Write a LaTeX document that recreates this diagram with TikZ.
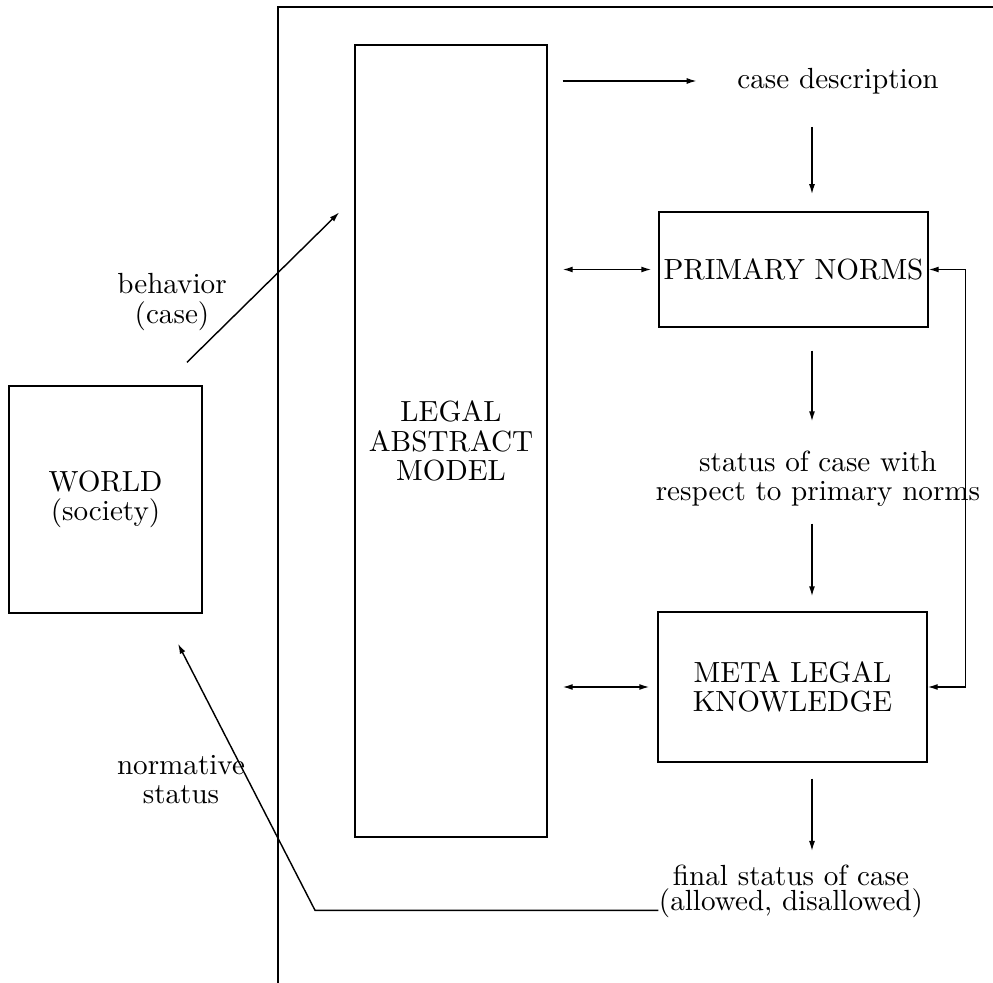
\documentclass[tikz,border=0pt]{standalone}
\usetikzlibrary{arrows.meta,calc}
\begin{document}
\begin{tikzpicture}[x=0.35pt,y=-0.35pt, line width=0.5pt,
  box/.style={draw, rectangle, inner sep=0pt, align=center, font=\fontsize{10.2}{10.2}\selectfont},
  lbl/.style={inner sep=0pt, align=center, font=\fontsize{10.2}{10.2}\selectfont},
  arr/.style={-{Latex[length=3.5pt,width=2.1pt]}},
  arrs/.style={{Latex[length=3.5pt,width=2.1pt]}-{Latex[length=3.5pt,width=2.1pt]}}]
\useasboundingbox (0,0) rectangle (993,983);

% outer frame (left and top edges only)
\coordinate (fa) at (278,983);
\coordinate (fb) at (278,7);
\coordinate (fc) at (993,7);
\draw (fa) -- (fb) -- (fc);

% boxes
\node[box, minimum width=67.55pt, minimum height=79.45pt] (world) at (105.5,499.5) {WORLD\\(society)};
\node[box, minimum width=67.2pt, minimum height=277.2pt] (legal) at (451,441) {LEGAL\\ABSTRACT\\MODEL};
\node[box, minimum width=94.15pt, minimum height=40.25pt] (primary) at (793.5,269.5) {PRIMARY NORMS};
\node[box, minimum width=94.15pt, minimum height=52.5pt] (meta) at (792.5,687) {META LEGAL\\KNOWLEDGE};

% free-standing labels
\node[lbl] (casedesc) at (838,81) {case description};
\node[lbl] (status) at (818,479) {status of case with\\respect to primary norms};
\node[lbl] (final) at (791,875) {final status of case};
\node[lbl] (finalb) at (791,903) {(allowed, disallowed)};
\node[lbl] (behavior) at (172,302) {behavior\\(case)};
\node[lbl] (normative) at (181,780) {normative\\status};

% helper coordinates
\coordinate (col) at (812,0);
\coordinate (bendx) at (315,0);
\coordinate (wtip) at ($(world.south)+(72.5,30)$);
\coordinate (bstart) at ($(world.north)+(81.5,-23)$);
\coordinate (bend) at ($(legal.north west)+(-15,168)$);

% main flow
\draw[arr, shorten <=5.25pt, shorten >=14pt] (legal.east |- casedesc.west) -- (casedesc.west);
\draw[arr, shorten <=11.3pt, shorten >=6pt] (casedesc.south -| col) -- (primary.north -| col);
\draw[arrs, shorten <=5.25pt, shorten >=2.45pt] (legal.east |- primary.west) -- (primary.west);
\draw[arr, shorten <=8pt, shorten >=10.2pt] (primary.south -| col) -- (status.north -| col);
\draw[arr, shorten <=5.6pt, shorten >=5.25pt] (status.south -| col) -- (meta.north -| col);
\draw[arrs, shorten <=5.25pt, shorten >=2.8pt] (legal.east |- meta.west) -- (meta.west);
\draw[arrs] (primary.east) -- ++(37,0) |- (meta.east);
\draw[arr, shorten <=5.6pt, shorten >=4.5pt] (meta.south -| col) -- (final.north -| col);

% links with the world
\draw[arr] (bstart) -- (bend);
\draw[arr] (finalb.base west) -- (finalb.base west -| bendx) -- (wtip);
\end{tikzpicture}
\end{document}
